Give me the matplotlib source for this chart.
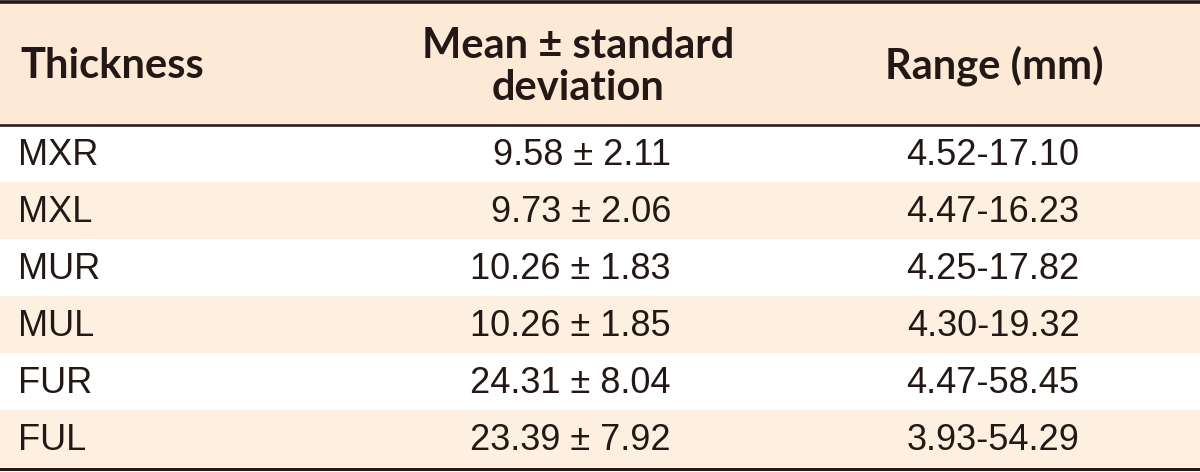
import matplotlib
matplotlib.use("Agg")
import matplotlib.pyplot as plt
from matplotlib import font_manager as fm
from matplotlib.patches import Rectangle

headers = ["Thickness", "Mean \u00b1 standard\ndeviation", "Range (mm)"]
sites = ["MXR", "MXL", "MUR", "MUL", "FUR", "FUL"]
means = ["9.58", "9.73", "10.26", "10.26", "24.31", "23.39"]
sds = ["2.11", "2.06", "1.83", "1.85", "8.04", "7.92"]
ranges = ["4.52-17.10", "4.47-16.23", "4.25-17.82", "4.30-19.32", "4.47-58.45", "3.93-54.29"]

names = {f.name for f in fm.fontManager.ttflist}
body_font = "Liberation Sans Narrow" if "Liberation Sans Narrow" in names else "Liberation Sans"
head_font = "Lato" if "Lato" in names else "DejaVu Sans"

W, H = 1200, 472
fig = plt.figure(figsize=(12, 4.72), dpi=100)
ax = fig.add_axes([0, 0, 1, 1])
ax.set_xlim(0, W)
ax.set_ylim(H, 0)
ax.axis("off")

txt = "#231815"
head_bg = "#FDEAD6"
row_bg = "#FEF0E1"

top, head_bot, bottom = 3, 125, 467
rh = (bottom - head_bot) / len(sites)

ax.add_patch(Rectangle((0, top), W, head_bot - top, color=head_bg, lw=0))
for i in range(len(sites)):
    if i % 2 == 1:
        ax.add_patch(Rectangle((0, head_bot + i * rh), W, rh, color=row_bg, lw=0))

ax.plot([0, W], [1.5, 1.5], color=txt, lw=2.6)
ax.plot([0, W], [head_bot, head_bot], color=txt, lw=1.8)
ax.plot([0, W], [bottom + 1.5, bottom + 1.5], color=txt, lw=2.2)

hs = 30
hy = (top + head_bot) / 2
ax.text(20, hy + 2, headers[0], ha="left", va="center", fontsize=hs,
        fontfamily=head_font, fontweight="bold", color=txt)
ax.text(578, hy + 3, headers[1], ha="center", va="center", fontsize=hs,
        fontfamily=head_font, fontweight="bold", color=txt, linespacing=1.15)
ax.text(994, hy + 2, headers[2], ha="center", va="center", fontsize=hs,
        fontfamily=head_font, fontweight="bold", color=txt)

bs = 26
for i, (s, m, sd, r) in enumerate(zip(sites, means, sds, ranges)):
    y = head_bot + (i + 0.5) * rh + 2
    ax.text(18, y, s, ha="left", va="center", fontsize=bs, fontfamily=body_font, color=txt)
    ax.text(671, y, f"{m} \u00b1 {sd}", ha="right", va="center", fontsize=bs,
            fontfamily=body_font, color=txt)
    ax.text(993, y, r, ha="center", va="center", fontsize=bs, fontfamily=body_font, color=txt)

fig.savefig("out.png", dpi=100, facecolor="white")
